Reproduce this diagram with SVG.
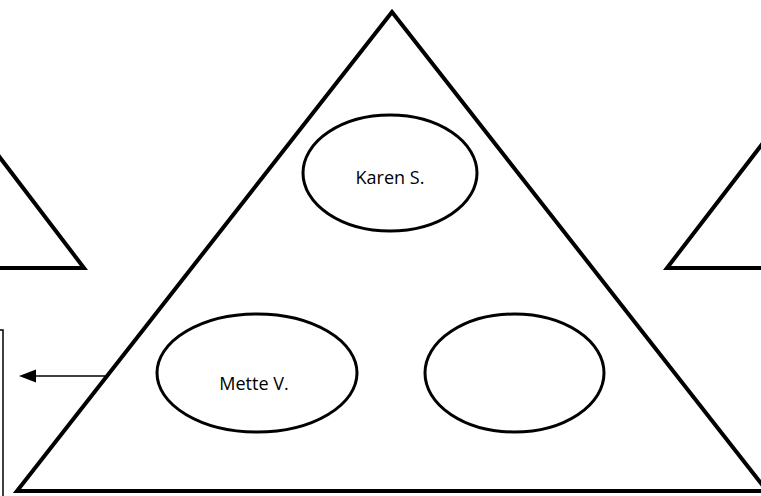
<svg xmlns="http://www.w3.org/2000/svg" width="761" height="496" viewBox="0 0 761 496">
<style>
.tri{fill:none;stroke:#000;stroke-width:4;stroke-linejoin:miter}
.ell{fill:#fff;stroke:#000;stroke-width:3}
.lbl{font-family:"Open Sans","Liberation Sans",sans-serif;font-size:18px;fill:#000;text-anchor:middle}
.thin{fill:none;stroke:#000;stroke-width:1.5}
</style>
<rect width="761" height="496" fill="#fff"/>
<g id="left-triangle"><polyline class="tri" points="-2,155 84,268 -2,268"/></g>
<g id="right-triangle"><polyline class="tri" points="763,143 667,268 763,268"/></g>
<g id="box"><polyline class="thin" points="-2,330 3,330 3,498"/></g>
<g id="main-triangle"><polygon class="tri" points="392,12 17,491 767,491"/></g>
<g id="karen"><ellipse class="ell" cx="390" cy="173" rx="87" ry="58"/><text class="lbl" x="390" y="184">Karen S.</text></g>
<g id="mette"><ellipse class="ell" cx="257" cy="373" rx="100" ry="59"/><text class="lbl" x="254" y="390">Mette V.</text></g>
<g id="empty"><ellipse class="ell" cx="514.5" cy="373" rx="89.5" ry="59"/></g>
<g id="connectors">
<line x1="105" y1="376" x2="34" y2="376" stroke="#000" stroke-width="1.5"/>
<path d="M19,376 L36,369.5 L36,382.5 Z" fill="#000"/>
</g>
</svg>
